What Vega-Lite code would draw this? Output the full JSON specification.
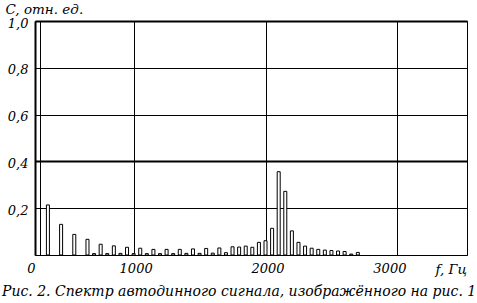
{
  "$schema": "https://vega.github.io/schema/vega-lite/v6.json",
  "width": 432,
  "height": 234,
  "autosize": {"type": "none"},
  "padding": {"left": 35, "top": 21, "right": 10, "bottom": 48},
  "background": "white",
  "config": {
    "view": {"stroke": "black", "strokeWidth": 1},
    "font": "DejaVu Serif",
    "axis": {
      "labelFont": "DejaVu Serif",
      "labelFontStyle": "italic",
      "labelFontSize": 13,
      "labelColor": "black",
      "titleFont": "DejaVu Serif",
      "titleFontStyle": "italic",
      "titleFontWeight": "normal",
      "titleFontSize": 13.5,
      "titleColor": "black",
      "domainColor": "black",
      "gridColor": "black",
      "gridOpacity": 1,
      "ticks": false
    }
  },
  "title": {
    "text": "Рис. 2. Спектр автодинного сигнала, изображённого на рис. 1",
    "orient": "bottom",
    "anchor": "start",
    "dx": -3,
    "offset": 9,
    "font": "DejaVu Serif",
    "fontStyle": "italic",
    "fontWeight": "normal",
    "fontSize": 14,
    "color": "black"
  },
  "data": {
    "values": [
      {"f": 350, "c": 0.214},
      {"f": 450, "c": 0.131},
      {"f": 550, "c": 0.088},
      {"f": 650, "c": 0.067},
      {"f": 700, "c": 0.006},
      {"f": 750, "c": 0.046},
      {"f": 800, "c": 0.006},
      {"f": 850, "c": 0.039},
      {"f": 900, "c": 0.007},
      {"f": 950, "c": 0.033},
      {"f": 1000, "c": 0.006},
      {"f": 1050, "c": 0.029},
      {"f": 1100, "c": 0.006},
      {"f": 1150, "c": 0.024},
      {"f": 1200, "c": 0.006},
      {"f": 1250, "c": 0.024},
      {"f": 1300, "c": 0.006},
      {"f": 1350, "c": 0.024},
      {"f": 1400, "c": 0.007},
      {"f": 1450, "c": 0.026},
      {"f": 1500, "c": 0.007},
      {"f": 1550, "c": 0.028},
      {"f": 1600, "c": 0.008},
      {"f": 1650, "c": 0.030},
      {"f": 1700, "c": 0.010},
      {"f": 1750, "c": 0.035},
      {"f": 1800, "c": 0.034},
      {"f": 1850, "c": 0.038},
      {"f": 1900, "c": 0.033},
      {"f": 1950, "c": 0.054},
      {"f": 2000, "c": 0.061},
      {"f": 2050, "c": 0.114},
      {"f": 2100, "c": 0.356},
      {"f": 2150, "c": 0.272},
      {"f": 2200, "c": 0.103},
      {"f": 2250, "c": 0.054},
      {"f": 2300, "c": 0.038},
      {"f": 2350, "c": 0.029},
      {"f": 2400, "c": 0.024},
      {"f": 2450, "c": 0.021},
      {"f": 2500, "c": 0.019},
      {"f": 2550, "c": 0.017},
      {"f": 2600, "c": 0.015},
      {"f": 2650, "c": 0.004},
      {"f": 2700, "c": 0.011}
    ]
  },
  "mark": {"type": "bar", "size": 3, "fill": "white", "stroke": "black", "strokeWidth": 1},
  "encoding": {
    "x": {
      "field": "f",
      "type": "quantitative",
      "scale": {"domain": [290, 3490], "nice": false, "zero": false},
      "axis": {
        "values": [290, 1000, 2000, 3000],
        "labelExpr": "datum.value < 500 ? '0' : datum.label",
        "format": "d",
        "labelPadding": 7,
        "labelOffset": {"condition": [{"test": "datum.value < 500", "value": -9}, {"test": "datum.value > 2500", "value": -8}], "value": 2},
        "domainWidth": 1,
        "gridWidth": 1,
        "title": "f, Гц",
        "titleAlign": "left",
        "titleAnchor": "start",
        "titleBaseline": "alphabetic",
        "titleX": 400,
        "titleY": 18
      }
    },
    "y": {
      "field": "c",
      "type": "quantitative",
      "scale": {"domain": [0, 1], "nice": false},
      "axis": {
        "values": [0.2, 0.4, 0.6, 0.8, 1.0],
        "labelExpr": "replace(format(datum.value, '.1f'), '.', ',')",
        "labelPadding": 7,
        "labelBaseline": "middle",
        "labelOffset": 2,
        "domainWidth": 2,
        "gridWidth": {"condition": {"test": "datum.value > 0.35 && datum.value < 0.45 || datum.value > 0.95", "value": 2}, "value": 1},
        "title": "C, отн. ед.",
        "titleAngle": 0,
        "titleAlign": "left",
        "titleAnchor": "start",
        "titleBaseline": "alphabetic",
        "titleX": -30,
        "titleY": -8
      }
    }
  }
}
